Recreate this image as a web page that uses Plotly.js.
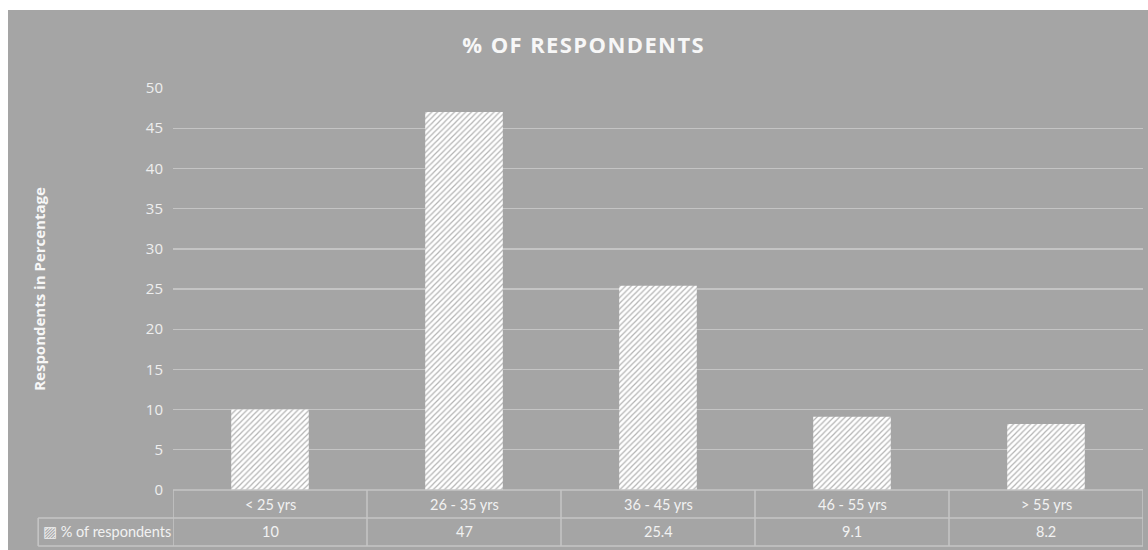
<!DOCTYPE html>
<html>
<head>
<meta charset="utf-8">
<script src="https://cdn.plot.ly/plotly-3.0.1.min.js"></script>
<style>
  html, body { margin: 0; padding: 0; background: #ffffff; }
  #chart { position: absolute; left: 8px; top: 10px; width: 1140px; height: 540px; }
  #chart .gtitle { letter-spacing: 1.4px; }
</style>
</head>
<body>
<div id="chart"></div>
<script>
const categories = ["< 25 yrs", "26 - 35 yrs", "36 - 45 yrs", "46 - 55 yrs", "> 55 yrs"];
const values = [10, 47, 25.4, 9.1, 8.2];
const valueLabels = ["10", "47", "25.4", "9.1", "8.2"];
const seriesName = "% of respondents";
const yTicks = [0, 5, 10, 15, 20, 25, 30, 35, 40, 45, 50];

const FONT = "Lato, 'Open Sans', sans-serif";
const TXT = "#f2f2f2";
const LINE = "#c6c6c6";

// table geometry (paper units relative to plot area)
const row1 = -0.0697, row2 = -0.139, leftCell = -0.139;

const idx = categories.map((c, i) => i);

const shapes = [];
shapes.push({type: "line", xref: "paper", yref: "paper", x0: 0, x1: 1, y0: 0, y1: 0, line: {color: LINE, width: 1.5}});
shapes.push({type: "line", xref: "paper", yref: "paper", x0: leftCell, x1: 1, y0: row1, y1: row1, line: {color: LINE, width: 1.5}});
shapes.push({type: "line", xref: "paper", yref: "paper", x0: leftCell, x1: 1, y0: row2, y1: row2, line: {color: LINE, width: 1.5}});
shapes.push({type: "line", xref: "paper", yref: "paper", x0: leftCell, x1: leftCell, y0: row1, y1: row2, line: {color: LINE, width: 1.5}});
for (let i = 0; i <= categories.length; i++) {
  shapes.push({type: "line", xref: "x", yref: "paper", x0: i - 0.5, x1: i - 0.5, y0: 0, y1: row2, line: {color: LINE, width: 1.5}});
}

const annotations = [];
categories.forEach((c, i) => {
  annotations.push({xref: "x", yref: "paper", x: i, y: row1 / 2, text: c.replace("<", "&lt;").replace(">", "&gt;"), showarrow: false,
    font: {family: FONT, size: 14.5, color: TXT}, xanchor: "center", yanchor: "middle"});
  annotations.push({xref: "x", yref: "paper", x: i, y: (row1 + row2) / 2, text: valueLabels[i], showarrow: false,
    font: {family: FONT, size: 14.5, color: TXT}, xanchor: "center", yanchor: "middle"});
});
annotations.push({xref: "paper", yref: "paper", x: leftCell + 0.003, y: (row1 + row2) / 2, text: "▨ " + seriesName, showarrow: false,
  font: {family: FONT, size: 14.5, color: TXT}, xanchor: "left", yanchor: "middle"});

const trace = {
  type: "bar",
  x: idx,
  y: values,
  name: seriesName,
  marker: {
    color: "#ffffff",
    line: {width: 0},
    pattern: {shape: "/", fgcolor: "#b4b4b4", bgcolor: "#ffffff", size: 4, solidity: 0.3}
  },
  hoverinfo: "y"
};

const layout = {
  width: 1140, height: 540,
  paper_bgcolor: "#a5a5a5",
  plot_bgcolor: "#a5a5a5",
  margin: {l: 165, r: 5, t: 78, b: 60},
  showlegend: false,
  bargap: 0.6,
  title: {text: "<b>% OF RESPONDENTS</b>", font: {family: "'Open Sans', sans-serif", size: 22, color: "#f7f7f7"},
    x: 0.505, xanchor: "center", yref: "container", y: 0.935, yanchor: "middle"},
  xaxis: {range: [-0.5, 4.5], showticklabels: false, showgrid: false, zeroline: false, fixedrange: true},
  yaxis: {range: [0, 50], tickvals: yTicks, showgrid: true, gridcolor: "#c4c4c4", gridwidth: 1.4, zeroline: false,
    ticks: "", ticklabelstandoff: 9, tickfont: {family: "'Open Sans', sans-serif", size: 15, color: "#eeeeee"},
    title: {text: "<b>Respondents in Percentage</b>", font: {family: "'Open Sans', sans-serif", size: 15, color: "#f7f7f7"}, standoff: 96}},
  shapes: shapes,
  annotations: annotations,
  font: {family: FONT}
};

Plotly.newPlot("chart", [trace], layout, {displayModeBar: false, staticPlot: true});
</script>
</body>
</html>
